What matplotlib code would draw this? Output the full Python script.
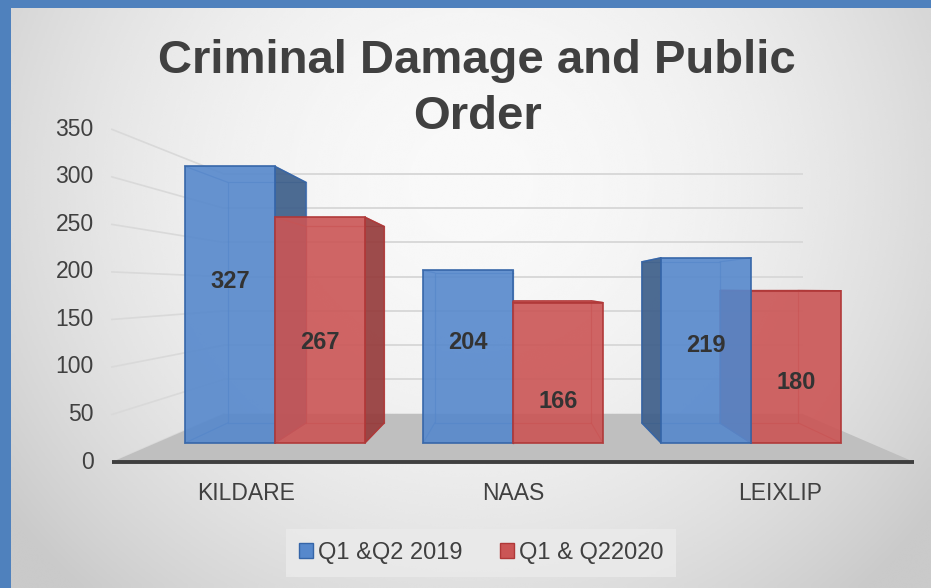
"""
Criminal Damage and Public Order -- 3D-style clustered bar chart
(Q1 & Q2 2019 vs Q1 & Q2 2020 by district).
Saves out.png
"""

import numpy as np
import matplotlib
matplotlib.use("Agg")
import matplotlib.pyplot as plt
from matplotlib.patches import Polygon, Patch

plt.rcParams["font.family"] = ["Liberation Sans", "DejaVu Sans"]

# ── Data ────────────────────────────────────────────────────
districts = ["KILDARE", "NAAS", "LEIXLIP"]
series_names = ["Q1 &Q2 2019", "Q1 & Q22020"]
values_2019 = [327, 204, 219]
values_2020 = [267, 166, 180]
y_ticks = [0, 50, 100, 150, 200, 250, 300, 350]

# ── Style ───────────────────────────────────────────────────
FRAME_BLUE = "#4F81BD"
TEXT = "#404040"
FRONT = ["#5688CC", "#CB5555"]
SIDE = ["#3E5F8A", "#963C3C"]
EDGE = ["#3565A8", "#B03838"]
GRID = "#d9d9d9"
FLOOR = "#bfbfbf"
# where the value label sits on each bar (fraction of bar height)
LABEL_FRAC = [[0.585, 0.585, 0.524], [0.443, 0.292, 0.40]]

W, H = 931, 588
BAR_W = 0.378

# pixel mapping of the bar-front plane
X0_PIX, X_STEP = 275, 238
V0_PIX, V_SCALE = 443, 0.846

# simple perspective: scale about a vanishing point
VP = (1.0, 182.0)
S_FRONT = 1.1236   # floor front edge / axis labels
S_BAR_BACK = 0.87  # back face of bars
S_WALL = 0.81      # back wall
FLOOR_X = (-0.5, 2.5)


def proj(x, v, s):
    return (VP[0] + s * (x - VP[0]), VP[1] + s * (v - VP[1]))


fig = plt.figure(figsize=(W / 100, H / 100), dpi=100)
fig.patch.set_facecolor(FRAME_BLUE)

# background panel with soft gradient
bg = fig.add_axes([11 / W, 0, 1 - 11 / W, 1 - 8 / H])
bg.axis("off")
yy, xx = np.mgrid[0:1:300j, 0:1:500j]
d = np.sqrt(((xx - 0.5) / 0.62) ** 2 + ((yy - 0.3) / 0.95) ** 2)
shade = np.clip(0.975 - 0.18 * d ** 2, 0.79, 0.975)
bg.imshow(shade, cmap="gray", vmin=0, vmax=1, aspect="auto",
          extent=[0, 1, 1, 0], interpolation="bicubic")
bg.set_xlim(0, 1)
bg.set_ylim(1, 0)

ax = fig.add_axes([0, 0, 1, 1])
ax.set_facecolor("none")
ax.axis("off")
ax.set_xlim((0 - X0_PIX) / X_STEP, (W - X0_PIX) / X_STEP)
ax.set_ylim((V0_PIX - H) / V_SCALE, V0_PIX / V_SCALE)

# ── walls & floor ───────────────────────────────────────────
for v in y_ticks:
    (xa, ya), (xb, yb) = proj(FLOOR_X[0], v, S_FRONT), proj(FLOOR_X[0], v, S_WALL)
    ax.plot([xa, xb], [ya, yb], color=GRID, lw=1.2, zorder=1)
    if v > 0:
        (xc, yc) = proj(FLOOR_X[1], v, S_WALL)
        ax.plot([xb, xc], [yb, yc], color=GRID, lw=1.4, zorder=1)
    ax.annotate(str(v), proj(FLOOR_X[0], v, S_FRONT), xytext=(-13, 0),
                textcoords="offset points", ha="right", va="center",
                fontsize=16.5, color=TEXT)

floor = [proj(FLOOR_X[0], 0, S_FRONT), proj(FLOOR_X[1], 0, S_FRONT),
         proj(FLOOR_X[1], 0, S_WALL), proj(FLOOR_X[0], 0, S_WALL)]
ax.add_patch(Polygon(floor, closed=True, facecolor=FLOOR, edgecolor="none", zorder=2))
fl, fr = proj(FLOOR_X[0], 0, S_FRONT), proj(FLOOR_X[1], 0, S_FRONT)
ax.plot([fl[0], fr[0]], [fl[1], fr[1]], color="#3f3f3f", lw=2.8,
        solid_capstyle="butt", zorder=3)

for i, name in enumerate(districts):
    ax.annotate(name, proj(i, 0, S_FRONT), xytext=(0, -22.5),
                textcoords="offset points", ha="center", va="center",
                fontsize=16.5, color=TEXT)

# ── bars ────────────────────────────────────────────────────
bars = []
for j, vals in enumerate([values_2019, values_2020]):
    for i, v in enumerate(vals):
        x0 = i - BAR_W + j * BAR_W
        bars.append((abs(x0 + BAR_W / 2 - VP[0]), i, j, x0, v))
bars.sort(key=lambda b: -b[0])

z = 10
for _, i, j, x0, v in bars:
    x1 = x0 + BAR_W
    F = lambda x, y: proj(x, y, 1.0)
    B = lambda x, y: proj(x, y, S_BAR_BACK)

    # hidden edges seen through the translucent bar
    back = [B(x0, 0), B(x1, 0), B(x1, v), B(x0, v), B(x0, 0)]
    ax.plot([p[0] for p in back], [p[1] for p in back], color=EDGE[j],
            lw=0.9, alpha=0.6, zorder=z)
    for cx, cy in [(x0, 0), (x1, 0), (x0, v), (x1, v)]:
        a, b = F(cx, cy), B(cx, cy)
        ax.plot([a[0], b[0]], [a[1], b[1]], color=EDGE[j], lw=0.9,
                alpha=0.6, zorder=z)

    # visible side face
    if x1 < VP[0]:
        side = [F(x1, 0), F(x1, v), B(x1, v), B(x1, 0)]
        ax.add_patch(Polygon(side, facecolor=SIDE[j], edgecolor=EDGE[j],
                             lw=1, alpha=0.92, zorder=z + 1))
    if x0 > VP[0]:
        side = [F(x0, 0), F(x0, v), B(x0, v), B(x0, 0)]
        ax.add_patch(Polygon(side, facecolor=SIDE[j], edgecolor=EDGE[j],
                             lw=1, alpha=0.92, zorder=z + 1))
    if v < VP[1]:
        top = [F(x0, v), F(x1, v), B(x1, v), B(x0, v)]
        ax.add_patch(Polygon(top, facecolor=FRONT[j], edgecolor=EDGE[j],
                             lw=1, alpha=0.9, zorder=z + 1))

    ax.bar(x0, v, width=BAR_W, align="edge", color=FRONT[j], alpha=0.9,
           edgecolor=EDGE[j], linewidth=1.3, zorder=z + 2)
    z += 3

for j, vals in enumerate([values_2019, values_2020]):
    for i, v in enumerate(vals):
        x0 = i - BAR_W + j * BAR_W
        ax.text(x0 + BAR_W / 2, v * LABEL_FRAC[j][i], str(v), ha="center",
                va="center", fontsize=17, fontweight="bold",
                color="#333333", zorder=100)

# ── title & legend ──────────────────────────────────────────
fig.text(477 / W, 1 - 73 / H, "Criminal Damage and Public", ha="center",
         va="baseline", fontsize=34, fontweight="bold", color=TEXT)
fig.text(477 / W, 1 - 129 / H, "Order", ha="center", va="baseline",
         fontsize=34, fontweight="bold", color=TEXT)

handles = [Patch(facecolor=FRONT[k], edgecolor=EDGE[k], label=series_names[k])
           for k in range(2)]
leg = fig.legend(handles=handles, loc="center", ncol=2,
                 bbox_to_anchor=(481 / W, 1 - 553 / H), fontsize=17,
                 frameon=True, facecolor="#ebebeb", edgecolor="none",
                 fancybox=False, handlelength=0.6, handleheight=0.6,
                 handletextpad=0.2, columnspacing=1.6, borderpad=0.55)
for t in leg.get_texts():
    t.set_color(TEXT)

fig.savefig("out.png", dpi=100, facecolor=fig.get_facecolor())
